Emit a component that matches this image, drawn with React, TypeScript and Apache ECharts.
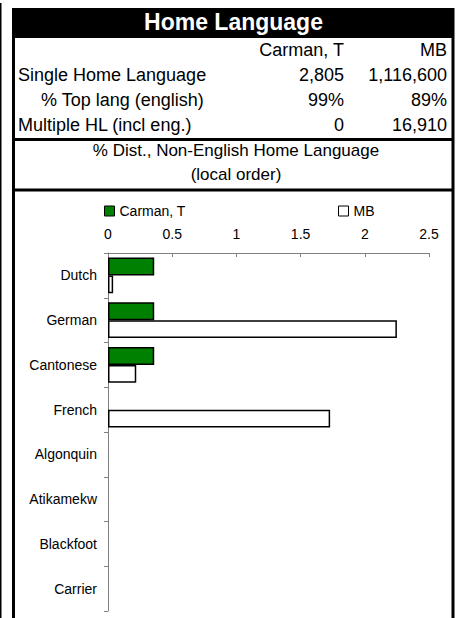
import React, { useEffect, useRef } from "react";
import * as echarts from "echarts";

const categories = ["Dutch", "German", "Cantonese", "French", "Algonquin", "Atikamekw", "Blackfoot", "Carrier"];
const carmanValues = [0.36, 0.36, 0.36, 0, 0, 0, 0, 0];
const mbValues = [0.04, 2.25, 0.22, 1.73, 0, 0, 0, 0];
const seriesNames = ["Carman, T", "MB"];

const title = "Home Language";
const headerCols = ["Carman, T", "MB"];
const rowLabels = ["Single Home Language", "% Top lang (english)", "Multiple HL (incl eng.)"];
const rowCarman = ["2,805", "99%", "0"];
const rowMB = ["1,116,600", "89%", "16,910"];
const subTitle1 = "% Dist., Non-English Home Language";
const subTitle2 = "(local order)";

const FONT = "'Liberation Sans', Arial, sans-serif";

// zero-valued bars are not drawn (no outline) in the reference
const hideZero = (arr: number[]) => arr.map((v) => (v === 0 ? null : v));

export default function App() {
  const ref = useRef<HTMLDivElement>(null);
  useEffect(() => {
    if (!ref.current) return;
    const chart = echarts.init(ref.current, undefined, { renderer: "svg" });
    const rowY = [75, 100, 125];
    const rowX = [18, 41, 18];
    const textStyle = (extra: any) => ({ fontFamily: FONT, fill: "#000", fontSize: 18, verticalAlign: "middle", ...extra });
    const graphic: any[] = [
      { type: "rect", shape: { x: 0, y: 3, width: 1.5, height: 615 }, style: { fill: "#000" } },
      { type: "rect", shape: { x: 12, y: 8, width: 442, height: 30 }, style: { fill: "#000" } },
      { type: "rect", shape: { x: 12, y: 8, width: 3, height: 610 }, style: { fill: "#000" } },
      { type: "rect", shape: { x: 451.5, y: 8, width: 3, height: 610 }, style: { fill: "#000" } },
      { type: "rect", shape: { x: 12, y: 138, width: 442, height: 3 }, style: { fill: "#000" } },
      { type: "rect", shape: { x: 12, y: 188.5, width: 442, height: 3 }, style: { fill: "#000" } },
      { type: "text", x: 233.5, y: 22, style: textStyle({ text: title, fill: "#fff", fontSize: 23, fontWeight: "bold", align: "center" }) },
      { type: "text", x: 344, y: 50, style: textStyle({ text: headerCols[0], align: "right" }) },
      { type: "text", x: 447, y: 50, style: textStyle({ text: headerCols[1], align: "right" }) },
      { type: "text", x: 236, y: 150.5, style: textStyle({ text: subTitle1, align: "center", fontSize: 17 }) },
      { type: "text", x: 236, y: 174.5, style: textStyle({ text: subTitle2, align: "center", fontSize: 17 }) },
    ];
    rowLabels.forEach((l, i) => {
      graphic.push({ type: "text", x: rowX[i], y: rowY[i], style: textStyle({ text: l, align: "left" }) });
      graphic.push({ type: "text", x: 344, y: rowY[i], style: textStyle({ text: rowCarman[i], align: "right" }) });
      graphic.push({ type: "text", x: 447, y: rowY[i], style: textStyle({ text: rowMB[i], align: "right" }) });
    });

    const legendBase = {
      top: 204,
      padding: 0,
      icon: "rect",
      itemWidth: 10,
      itemHeight: 10,
      itemGap: 0,
      textStyle: { fontFamily: FONT, fontSize: 14, color: "#000" },
    };

    chart.setOption({
      animation: false,
      backgroundColor: "#fff",
      graphic,
      legend: [
        { ...legendBase, left: 104, data: [{ name: seriesNames[0], itemStyle: { color: "#008000", borderColor: "#000", borderWidth: 1 } }] },
        { ...legendBase, left: 338, data: [{ name: seriesNames[1], itemStyle: { color: "#fff", borderColor: "#000", borderWidth: 1 } }] },
      ],
      grid: { left: 108, right: 28, top: 253, bottom: 7, containLabel: false },
      xAxis: {
        type: "value",
        position: "top",
        min: 0,
        max: 2.5,
        interval: 0.5,
        axisLine: { show: true, lineStyle: { color: "#808080", width: 1 } },
        axisTick: { show: true, inside: true, length: 4, lineStyle: { color: "#808080" } },
        axisLabel: { fontFamily: FONT, fontSize: 14, color: "#000", margin: 12 },
        splitLine: { show: false },
      },
      yAxis: {
        type: "category",
        inverse: true,
        data: categories,
        axisLine: { show: true, lineStyle: { color: "#808080", width: 1 } },
        axisTick: { show: true, length: 4, lineStyle: { color: "#808080" } },
        axisLabel: { fontFamily: FONT, fontSize: 14, color: "#000", margin: 11 },
      },
      series: [
        {
          name: seriesNames[0],
          type: "bar",
          data: hideZero(carmanValues),
          barGap: "0%",
          barCategoryGap: "20%",
          itemStyle: { color: "#008000", borderColor: "#000", borderWidth: 1.5 },
        },
        {
          name: seriesNames[1],
          type: "bar",
          data: hideZero(mbValues),
          barGap: "0%",
          barCategoryGap: "20%",
          itemStyle: { color: "#fff", borderColor: "#000", borderWidth: 1.5 },
        },
      ],
    });
    return () => chart.dispose();
  }, []);
  return <div ref={ref} style={{ position: "absolute", left: 0, top: 0, width: 457, height: 618 }} />;
}
